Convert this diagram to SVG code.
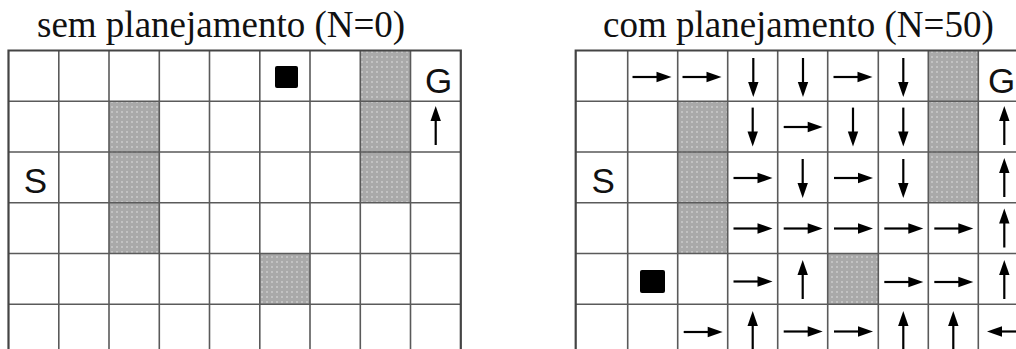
<svg xmlns="http://www.w3.org/2000/svg" xmlns:xlink="http://www.w3.org/1999/xlink" width="1016" height="349" viewBox="0 0 1016 349">
<style>
.title{font-family:"Liberation Serif","Times New Roman",serif;font-size:37px;fill:#111}
.lbl{font-family:"Liberation Sans",Arial,sans-serif;font-size:35px;fill:#111;text-anchor:middle}
.gl{stroke:#5a5a5a;stroke-width:1.6;fill:none}
.border{stroke:#444;stroke-width:2.2;fill:none}
.obs{fill:url(#dots)}
.agent{fill:#000}
</style>
<defs>
<pattern id="dots" width="5" height="5" patternUnits="userSpaceOnUse">
<rect width="5" height="5" fill="#a9a9a9"/>
<rect x="1" y="1" width="2" height="2" fill="#c2c2c2"/>
</pattern>
<g id="ar">
<line x1="-19" y1="0" x2="7" y2="0" stroke="#000" stroke-width="2.2"/>
<polygon points="20,0 5,-5.2 5,5.2" fill="#000"/>
</g>
</defs>
<rect width="1016" height="349" fill="#fff"/>

<g id="title-left"><text class="title" x="37" y="37">sem planejamento (N=0)</text></g>
<g id="title-right"><text class="title" x="603" y="37">com planejamento (N=50)</text></g>

<!-- LEFT GRID -->
<g id="grid-left">
<g id="obstacles-left">
<rect class="obs" x="109" y="101.2" width="50.3" height="152.3"/>
<rect class="obs" x="360.3" y="50.5" width="50.2" height="152.3"/>
<rect class="obs" x="259.8" y="253.5" width="50.2" height="50.8"/>
</g>
<g id="lines-left">
<path class="gl" d="M58.8 50.5V349M109 50.5V349M159.3 50.5V349M209.5 50.5V349M259.8 50.5V349M310 50.5V349M360.3 50.5V349M410.5 50.5V349"/>
<path class="gl" d="M8.5 101.2H460.8M8.5 152H460.8M8.5 202.8H460.8M8.5 253.5H460.8M8.5 304.3H460.8"/>
<path class="border" d="M8.5 349V50.5H460.8V349"/>
</g>
<g id="agent-left"><rect class="agent" x="275" y="66" width="23" height="22" rx="2"/></g>
<g id="goal-left"><text class="lbl" x="438.5" y="93">G</text></g>
<g id="start-left"><text class="lbl" x="35.5" y="193">S</text></g>
<g id="arrows-left">
<use xlink:href="#ar" transform="translate(435.7 126) rotate(-90)"/>
</g>
</g>

<!-- RIGHT GRID -->
<g id="grid-right">
<g id="obstacles-right">
<rect class="obs" x="677.7" y="101.2" width="50" height="152.3"/>
<rect class="obs" x="928.3" y="50.5" width="50" height="152.3"/>
<rect class="obs" x="827.7" y="253.5" width="50.6" height="50.8"/>
</g>
<g id="lines-right">
<path class="gl" d="M627.7 50.5V349M677.7 50.5V349M727.7 50.5V349M777.7 50.5V349M827.7 50.5V349M878.3 50.5V349M928.3 50.5V349M978.3 50.5V349"/>
<path class="gl" d="M575.7 101.2H1016M575.7 152H1016M575.7 202.8H1016M575.7 253.5H1016M575.7 304.3H1016"/>
<path class="border" d="M575.7 349V50.5H1016"/>
</g>
<g id="agent-right"><rect class="agent" x="640" y="270" width="25" height="23" rx="2"/></g>
<g id="goal-right"><text class="lbl" x="1001.5" y="93">G</text></g>
<g id="start-right"><text class="lbl" x="603.3" y="193">S</text></g>
<g id="arrows-right">
<!-- row 0 -->
<use xlink:href="#ar" transform="translate(651.5 77)"/>
<use xlink:href="#ar" transform="translate(701.5 77)"/>
<use xlink:href="#ar" transform="translate(753.3 77) rotate(90)"/>
<use xlink:href="#ar" transform="translate(803 77) rotate(90)"/>
<use xlink:href="#ar" transform="translate(852.5 77)"/>
<use xlink:href="#ar" transform="translate(903.3 77) rotate(90)"/>
<!-- row 1 -->
<use xlink:href="#ar" transform="translate(752.7 126.6) rotate(90)"/>
<use xlink:href="#ar" transform="translate(802.7 127)"/>
<use xlink:href="#ar" transform="translate(853 126.6) rotate(90)"/>
<use xlink:href="#ar" transform="translate(903.3 126.6) rotate(90)"/>
<use xlink:href="#ar" transform="translate(1004.3 126) rotate(-90)"/>
<!-- row 2 -->
<use xlink:href="#ar" transform="translate(752.5 178)"/>
<use xlink:href="#ar" transform="translate(802.7 178) rotate(90)"/>
<use xlink:href="#ar" transform="translate(853 178)"/>
<use xlink:href="#ar" transform="translate(903.3 178) rotate(90)"/>
<use xlink:href="#ar" transform="translate(1004.3 178) rotate(-90)"/>
<!-- row 3 -->
<use xlink:href="#ar" transform="translate(752.5 228.5)"/>
<use xlink:href="#ar" transform="translate(802.7 228.5)"/>
<use xlink:href="#ar" transform="translate(853 228.5)"/>
<use xlink:href="#ar" transform="translate(903.3 228.5)"/>
<use xlink:href="#ar" transform="translate(953.3 228.5)"/>
<use xlink:href="#ar" transform="translate(1004.3 228.5) rotate(-90)"/>
<!-- row 4 -->
<use xlink:href="#ar" transform="translate(752.5 281.5)"/>
<use xlink:href="#ar" transform="translate(802.7 280) rotate(-90)"/>
<use xlink:href="#ar" transform="translate(903.3 282)"/>
<use xlink:href="#ar" transform="translate(953.3 282)"/>
<use xlink:href="#ar" transform="translate(1004.3 280) rotate(-90)"/>
<!-- row 5 -->
<use xlink:href="#ar" transform="translate(702.7 332)"/>
<use xlink:href="#ar" transform="translate(752.7 331) rotate(-90)"/>
<use xlink:href="#ar" transform="translate(802.7 331.5)"/>
<use xlink:href="#ar" transform="translate(853 331.5)"/>
<use xlink:href="#ar" transform="translate(903.3 331) rotate(-90)"/>
<use xlink:href="#ar" transform="translate(953.3 331) rotate(-90)"/>
<use xlink:href="#ar" transform="translate(1007 331.5) rotate(180)"/>
</g>
</g>
</svg>
